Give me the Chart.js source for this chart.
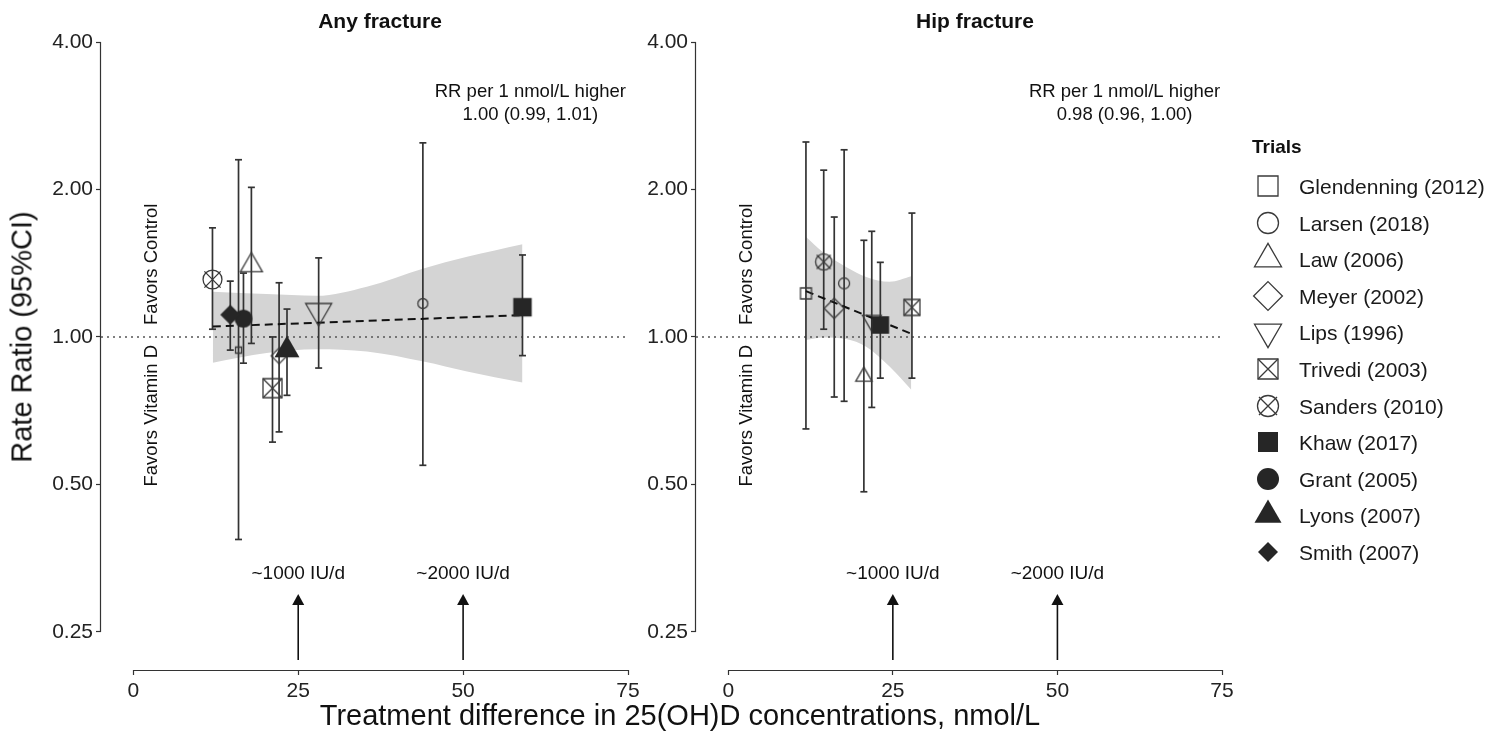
<!DOCTYPE html>
<html>
<head>
<meta charset="utf-8">
<title>Vitamin D and fracture: meta-regression</title>
<script src="https://cdn.jsdelivr.net/npm/chart.js@4.4.1/dist/chart.umd.min.js"></script>
<style>
  html, body { margin: 0; padding: 0; background: #fff; }
  body { width: 1488px; height: 731px; position: relative; overflow: hidden;
         font-family: "Liberation Sans", Arial, Helvetica, sans-serif; color: #111; }
  canvas { position: absolute; top: 0; }
  #anyChart { left: 0; }
  #hipChart { left: 630px; }
  .lbl { position: absolute; white-space: nowrap; line-height: 1; transform: translate(-50%, -50%); }
  .panel-title { font-weight: bold; font-size: 21px; top: 20px; }
  #yTitle { left: 22px; top: 337px; font-size: 29px; transform: translate(-50%, -50%) rotate(-90deg); }
  #xTitle { left: 680px; top: 715px; font-size: 29px; }
  .leg { position: absolute; left: 1299px; white-space: nowrap; line-height: 1; font-size: 21px;
         transform: translateY(-50%); color: #1a1a1a; }
  .leg-title { position: absolute; left: 1252px; top: 146px; font-weight: bold; font-size: 19px;
               line-height: 1; transform: translateY(-50%); }
</style>
</head>
<body>
<canvas id="anyChart" width="660" height="731"></canvas>
<canvas id="hipChart" width="630" height="731"></canvas>
<div class="lbl panel-title" style="left:380px">Any fracture</div>
<div class="lbl panel-title" style="left:975px">Hip fracture</div>
<div class="lbl" id="yTitle">Rate Ratio (95%CI)</div>
<div class="lbl" id="xTitle">Treatment difference in 25(OH)D concentrations, nmol/L</div>
<div class="leg-title">Trials</div>

<script>
// trials in legend order, and the symbol each one uses
const trials = ['Glendenning (2012)', 'Larsen (2018)', 'Law (2006)', 'Meyer (2002)', 'Lips (1996)',
                'Trivedi (2003)', 'Sanders (2010)', 'Khaw (2017)', 'Grant (2005)', 'Lyons (2007)', 'Smith (2007)'];
const shapes = ['square', 'circle', 'triangle', 'diamond', 'triangleDown',
                'squareX', 'circleX', 'squareFill', 'circleFill', 'triangleFill', 'diamondFill'];

const xTicks = [0, 25, 50, 75];
const yTicks = [0.25, 0.5, 1, 2, 4];

// Any fracture: 25(OH)D difference, rate ratio and 95% CI
const anyDiff = [15.95, 43.9, 17.9, 22.1, 28.1, 21.1, 12.0, 59.0, 16.7, 23.3, 14.7];
const anyRR   = [0.94, 1.17, 1.40, 0.915, 1.13, 0.786, 1.31, 1.15, 1.09, 0.94, 1.11];
const anyLow  = [0.386, 0.547, 0.97, 0.64, 0.864, 0.61, 1.037, 0.916, 0.884, 0.76, 0.94];
const anyHigh = [2.30, 2.49, 2.02, 1.29, 1.45, 1.00, 1.67, 1.47, 1.35, 1.14, 1.30];
const anyBandX    = [12.05, 20.2, 27.8, 35.4, 44.0, 50.6, 59.0];
const anyBandHigh = [1.236, 1.223, 1.213, 1.266, 1.379, 1.457, 1.546];
const anyBandLow  = [0.886, 0.927, 0.944, 0.934, 0.891, 0.85, 0.807];
const anyFitX = [12.05, 59.0];
const anyFitY = [1.05, 1.108];
const anyEstimate = ['RR per 1 nmol/L higher', '1.00 (0.99, 1.01)'];

// Hip fracture (null = trial not shown in this panel)
const hipDiff = [11.8, 17.6, 20.6, 16.1, 21.8, 27.9, 14.5, 23.1, null, null, null];
const hipRR   = [1.227, 1.286, 0.83, 1.144, 1.08, 1.149, 1.423, 1.058, null, null, null];
const hipLow  = [0.649, 0.739, 0.483, 0.754, 0.718, 0.824, 1.037, 0.824, null, null, null];
const hipHigh = [2.50, 2.41, 1.575, 1.757, 1.643, 1.79, 2.19, 1.42, null, null, null];
const hipBandX    = [11.82, 14.35, 17.9, 20.95, 24.5, 27.8];
const hipBandHigh = [1.60, 1.491, 1.39, 1.326, 1.296, 1.33];
const hipBandLow  = [0.986, 0.997, 0.99, 0.955, 0.87, 0.78];
const hipFitX = [11.8, 27.8];
const hipFitY = [1.24, 1.015];
const hipEstimate = ['RR per 1 nmol/L higher', '0.98 (0.96, 1.00)'];

const doseX = [25, 50];
const doseLabels = ['~1000 IU/d', '~2000 IU/d'];

// marker sizes (px) as drawn in each panel
const anyMarkerSize = [6, 9.5, 16.3, 11, 19.3, 19, 18, 18.5, 16.4, 18.5, 20];
const hipMarkerSize = [11, 10.5, 12, 14, 14, 16, 15.5, 17.5, 0, 0, 0];

const X_MIN = -4.9, X_MAX = 75;
const Y_MIN = 0.209, Y_MAX = 4;
const FONT = '"Liberation Sans", Arial, Helvetica, sans-serif';
Chart.defaults.font.family = FONT;

// draws one ggplot-like symbol on a small canvas, used as a Chart.js pointStyle
function markerCanvas(shape, s) {
  const n = Math.ceil(s * 1.7 + 6);
  const c = document.createElement('canvas');
  c.width = n; c.height = n;
  const g = c.getContext('2d');
  g.translate(n / 2, n / 2);
  g.lineWidth = 1.3;
  g.strokeStyle = '#3a3a3a';
  g.fillStyle = '#262626';
  const h = s / 2;
  g.beginPath();
  if (shape.startsWith('square')) {
    g.rect(-h, -h, s, s);
  } else if (shape.startsWith('circle')) {
    g.arc(0, 0, shape === 'circleFill' ? h * 1.1 : h * 1.05, 0, Math.PI * 2);
  } else if (shape.startsWith('triangle')) {
    const w = s * 1.35, r = w / Math.sqrt(3);
    const d = shape === 'triangleDown' ? -1 : 1;
    g.moveTo(0, -r * d); g.lineTo(w / 2, r / 2 * d); g.lineTo(-w / 2, r / 2 * d); g.closePath();
  } else if (shape.startsWith('diamond')) {
    const d = shape === 'diamondFill' ? s * 0.5 : s * 0.72;
    g.moveTo(0, -d); g.lineTo(d, 0); g.lineTo(0, d); g.lineTo(-d, 0); g.closePath();
  }
  if (shape.endsWith('Fill')) g.fill(); else g.stroke();
  if (shape === 'squareX') {
    g.beginPath();
    g.moveTo(-h, -h); g.lineTo(h, h); g.moveTo(h, -h); g.lineTo(-h, h);
    g.stroke();
  }
  if (shape === 'circleX') {
    const a = h * 0.9;
    g.beginPath();
    g.moveTo(-a, -a); g.lineTo(a, a); g.moveTo(a, -a); g.lineTo(-a, a);
    g.stroke();
  }
  return c;
}

// capped axis lines, estimate text, "favors" labels and dose arrows
const panelDecor = {
  id: 'panelDecor',
  afterDatasetsDraw(chart, args, opts) {
    const { ctx, chartArea: a, scales: { x, y } } = chart;
    ctx.save();
    ctx.strokeStyle = '#333';
    ctx.lineWidth = 1.2;
    ctx.beginPath();
    ctx.moveTo(x.getPixelForValue(xTicks[0]), a.bottom + 0.5);
    ctx.lineTo(x.getPixelForValue(xTicks[xTicks.length - 1]), a.bottom + 0.5);
    ctx.moveTo(a.left - 0.5, y.getPixelForValue(yTicks[0]));
    ctx.lineTo(a.left - 0.5, y.getPixelForValue(yTicks[yTicks.length - 1]));
    ctx.stroke();

    ctx.fillStyle = '#111';
    ctx.textAlign = 'center';
    ctx.textBaseline = 'middle';
    ctx.font = '18.5px ' + FONT;
    const ex = x.getPixelForValue(60.2);
    ctx.fillText(opts.estimate[0], ex, a.top + 50);
    ctx.fillText(opts.estimate[1], ex, a.top + 73);

    // favors labels either side of RR = 1
    const fx = x.getPixelForValue(2.8), fy = y.getPixelForValue(1);
    ctx.save();
    ctx.translate(fx, fy);
    ctx.rotate(-Math.PI / 2);
    ctx.textAlign = 'left';
    ctx.fillText('Favors Control', 12, 0);
    ctx.textAlign = 'right';
    ctx.fillText('Favors Vitamin D', -8, 0);
    ctx.restore();

    // dose arrows
    ctx.strokeStyle = '#111';
    ctx.lineWidth = 1.6;
    ctx.font = '19px ' + FONT;
    doseX.forEach((d, k) => {
      const px = x.getPixelForValue(d);
      const tip = a.bottom - 76, base = a.bottom - 10;
      ctx.beginPath();
      ctx.moveTo(px, base); ctx.lineTo(px, tip + 8);
      ctx.stroke();
      ctx.beginPath();
      ctx.moveTo(px, tip); ctx.lineTo(px + 6, tip + 11); ctx.lineTo(px - 6, tip + 11); ctx.closePath();
      ctx.fill();
      ctx.fillText(doseLabels[k], px, a.bottom - 96);
    });
    ctx.restore();
  }
};

function buildPanel(canvasId, p) {
  const datasets = [];
  datasets.push({
    type: 'line', label: 'CI band upper',
    data: p.bandX.map((v, i) => ({ x: v, y: p.bandHigh[i] })),
    borderColor: 'rgba(0,0,0,0)', borderWidth: 0, pointRadius: 0,
    backgroundColor: '#d4d4d4', fill: '+1', cubicInterpolationMode: 'monotone', order: 90
  });
  datasets.push({
    type: 'line', label: 'CI band lower',
    data: p.bandX.map((v, i) => ({ x: v, y: p.bandLow[i] })),
    borderColor: 'rgba(0,0,0,0)', borderWidth: 0, pointRadius: 0,
    fill: false, cubicInterpolationMode: 'monotone', order: 91
  });
  datasets.push({
    type: 'line', label: 'RR = 1',
    data: [{ x: X_MIN, y: 1 }, { x: X_MAX, y: 1 }],
    borderColor: '#555', borderWidth: 1.4, borderDash: [2, 4], pointRadius: 0, order: 80
  });
  datasets.push({
    type: 'line', label: 'meta-regression',
    data: p.fitX.map((v, i) => ({ x: v, y: p.fitY[i] })),
    borderColor: '#111', borderWidth: 2, borderDash: [8, 5], pointRadius: 0, order: 50
  });
  trials.forEach((name, i) => {
    if (p.diff[i] == null) return;
    datasets.push({
      type: 'line', label: name + ' 95% CI',
      data: [{ x: p.diff[i], y: p.low[i] }, { x: p.diff[i], y: p.high[i] }],
      borderColor: '#333', borderWidth: 1.7,
      pointStyle: 'line', pointRadius: 3.5, pointBorderWidth: 1.7, pointBorderColor: '#333',
      order: 60
    });
    datasets.push({
      type: 'scatter', label: name,
      data: [{ x: p.diff[i], y: p.rr[i] }],
      pointStyle: markerCanvas(shapes[i], p.sizes[i]), pointRadius: 8,
      order: 40 - i
    });
  });

  return new Chart(document.getElementById(canvasId), {
    type: 'scatter',
    data: { datasets },
    plugins: [panelDecor],
    options: {
      responsive: false,
      animation: false,
      events: [],
      layout: { padding: { left: 0, right: p.padRight, top: 42, bottom: 0 } },
      plugins: {
        legend: { display: false },
        tooltip: { enabled: false },
        panelDecor: { estimate: p.estimate }
      },
      scales: {
        x: {
          type: 'linear', min: X_MIN, max: X_MAX,
          afterBuildTicks: s => { s.ticks = xTicks.map(v => ({ value: v })); },
          afterFit: s => { s.height = 61; },
          grid: { drawOnChartArea: false, drawTicks: true, tickLength: 5, tickColor: '#333', tickWidth: 1.2 },
          border: { display: false },
          ticks: { autoSkip: false, maxRotation: 0, padding: 4, color: '#222', font: { size: 21 },
                   callback: v => String(v) }
        },
        y: {
          type: 'logarithmic', min: Y_MIN, max: Y_MAX,
          afterBuildTicks: s => { s.ticks = yTicks.map(v => ({ value: v })); },
          afterFit: s => { s.width = p.axisLeft; },
          grid: { drawOnChartArea: false, drawTicks: true, tickLength: 5, tickColor: '#333', tickWidth: 1.2 },
          border: { display: false },
          ticks: { autoSkip: false, padding: 3, color: '#222', font: { size: 21 },
                   callback: v => Number(v).toFixed(2) }
        }
      }
    }
  });
}

buildPanel('anyChart', {
  diff: anyDiff, rr: anyRR, low: anyLow, high: anyHigh, sizes: anyMarkerSize,
  bandX: anyBandX, bandHigh: anyBandHigh, bandLow: anyBandLow,
  fitX: anyFitX, fitY: anyFitY, estimate: anyEstimate,
  axisLeft: 101, padRight: 32
});
buildPanel('hipChart', {
  diff: hipDiff, rr: hipRR, low: hipLow, high: hipHigh, sizes: hipMarkerSize,
  bandX: hipBandX, bandHigh: hipBandHigh, bandLow: hipBandLow,
  fitX: hipFitX, fitY: hipFitY, estimate: hipEstimate,
  axisLeft: 66, padRight: 38
});

// legend
const LEG_TOP = 186, LEG_STEP = 36.6;
trials.forEach((name, i) => {
  const yc = LEG_TOP + i * LEG_STEP;
  const icon = markerCanvas(shapes[i], 20);
  icon.style.left = (1268 - icon.width / 2) + 'px';
  icon.style.top = (yc - icon.height / 2) + 'px';
  document.body.appendChild(icon);
  const t = document.createElement('div');
  t.className = 'leg';
  t.style.top = yc + 'px';
  t.textContent = name;
  document.body.appendChild(t);
});
</script>
</body>
</html>
